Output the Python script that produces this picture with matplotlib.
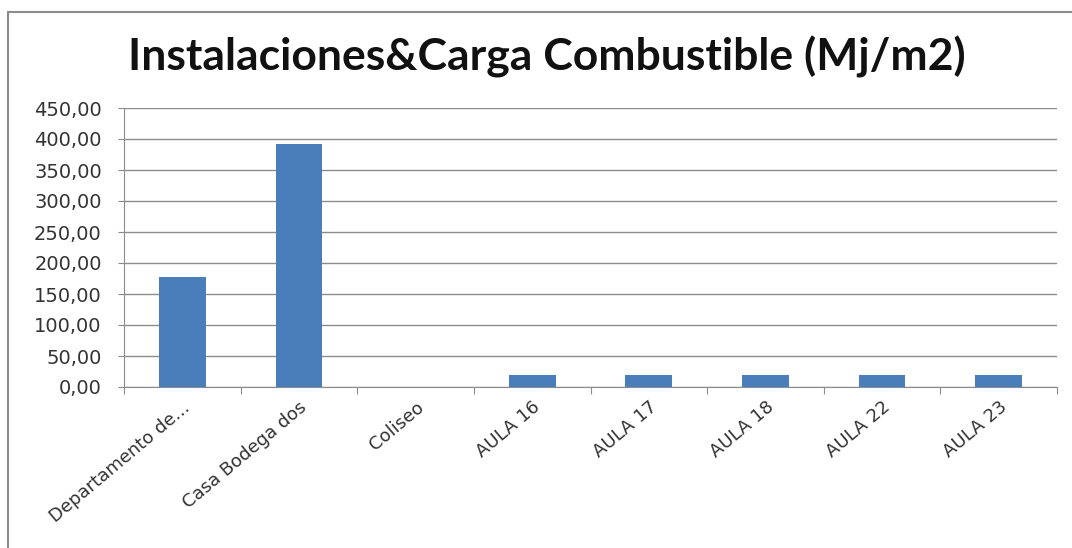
import matplotlib.pyplot as plt
from matplotlib.patches import Rectangle
from matplotlib.ticker import FuncFormatter, MultipleLocator
from matplotlib.transforms import ScaledTranslation

# Carga combustible por instalación (Mj/m2)
instalaciones = ["Departamento de...", "Casa Bodega dos", "Coliseo", "AULA 16",
                 "AULA 17", "AULA 18", "AULA 22", "AULA 23"]
carga = [177, 392, 0, 20, 20, 20, 20, 20]

W, H = 1072, 548
fig = plt.figure(figsize=(W / 100, H / 100), dpi=100)
ax = fig.add_axes([124 / W, 1 - 387 / H, (1057 - 124) / W, (387 - 108) / H])

# Marco gris del gráfico
fig.patches.append(Rectangle((8 / W, -0.1), 1.2, 1 - 12 / H + 0.1,
                             transform=fig.transFigure, fill=False,
                             ec="#8c8c8c", lw=1.5))

x = range(len(instalaciones))
ax.bar(x, carga, width=0.40, color="#4a7ebb", zorder=3)

ax.set_xlim(-0.5, len(instalaciones) - 0.5)
ax.set_ylim(0, 450)
ax.yaxis.set_major_locator(MultipleLocator(50))
ax.yaxis.set_major_formatter(FuncFormatter(lambda v, p: f"{v:.2f}".replace(".", ",")))
ax.grid(axis="y", color="#8c8c8c", lw=1, zorder=0)

# Marcas del eje x entre categorías, etiquetas en el centro
ax.set_xticks([i - 0.5 for i in range(len(instalaciones) + 1)])
ax.set_xticklabels([])
ax.set_xticks(list(x), minor=True)
etiquetas = ax.set_xticklabels(instalaciones, minor=True, rotation=40, ha="right",
                               rotation_mode="anchor", fontsize=13, color="#333333")
desplazar = ScaledTranslation(10 / 100, 0, fig.dpi_scale_trans)
for t in etiquetas:
    t.set_transform(t.get_transform() + desplazar)
ax.tick_params(axis="x", which="minor", length=0, pad=8)
ax.tick_params(axis="x", which="major", length=5, color="#8c8c8c")
ax.tick_params(axis="y", length=4, color="#8c8c8c", labelsize=14,
               labelcolor="#333333", pad=12)

for side in ["top", "right"]:
    ax.spines[side].set_visible(False)
for side in ["left", "bottom"]:
    ax.spines[side].set_color("#8c8c8c")

fig.text(547 / W, 1 - 70 / H, "Instalaciones&Carga Combustible (Mj/m2)",
         ha="center", va="baseline", fontsize=32, fontweight="bold",
         family="Lato", color="#111111")

fig.savefig("out.png", dpi=100)
